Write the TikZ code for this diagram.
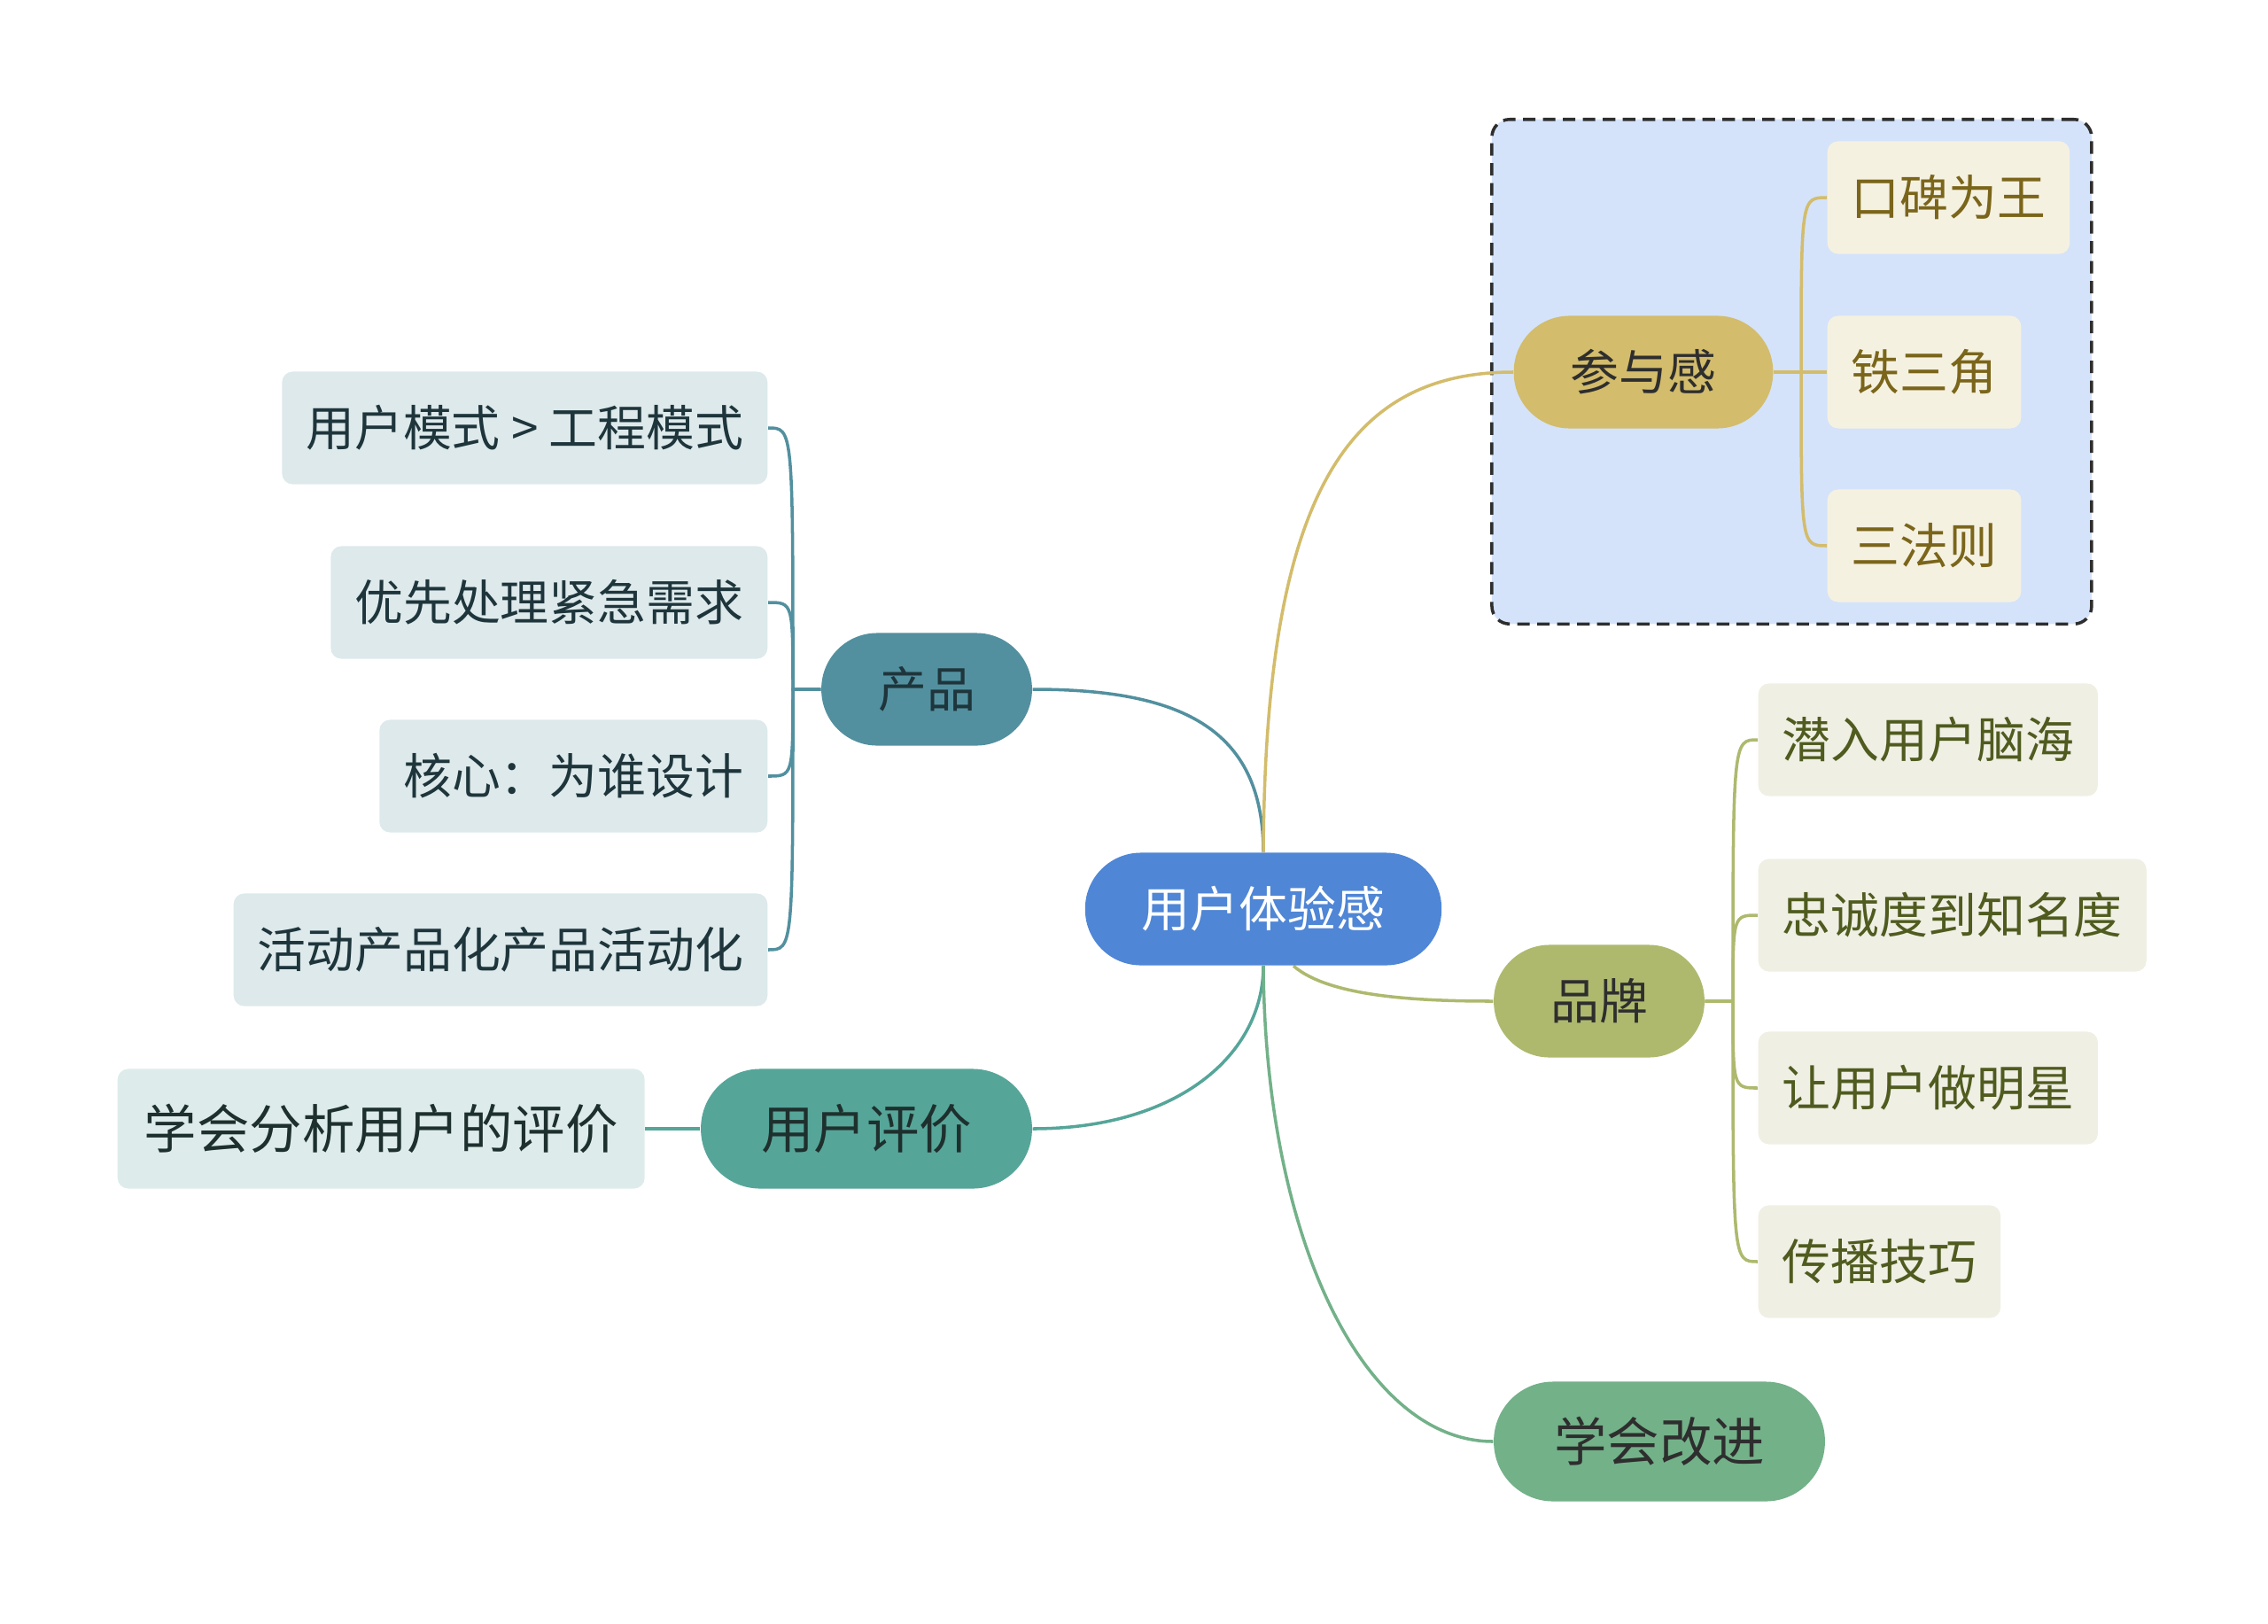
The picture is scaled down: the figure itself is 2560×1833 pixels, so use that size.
\documentclass[tikz,border=0pt]{standalone}
\usepackage{fontspec}
\setmainfont{Noto Sans CJK SC}
\usetikzlibrary{positioning, fit, backgrounds}

\definecolor{rootblue}{HTML}{4F86D6}
\definecolor{prodteal}{HTML}{52909F}
\definecolor{prodleaf}{HTML}{DDE9EB}
\definecolor{prodtext}{HTML}{1E353B}
\definecolor{evalteal}{HTML}{56A599}
\definecolor{evalleaf}{HTML}{DDECEA}
\definecolor{evaltext}{HTML}{1E302D}
\definecolor{partgold}{HTML}{D3BC6B}
\definecolor{partleaf}{HTML}{F5F1E1}
\definecolor{parttext}{HTML}{7A651A}
\definecolor{brandolive}{HTML}{AEB96E}
\definecolor{brandleaf}{HTML}{EFEFE3}
\definecolor{brandtext}{HTML}{4F5B1F}
\definecolor{improvegreen}{HTML}{73B189}
\definecolor{regionblue}{HTML}{D4E3FA}
\definecolor{darktext}{HTML}{2E2E2E}

\begin{document}
\begin{tikzpicture}[
    x=0.01cm, y=-0.01cm,
    topic/.style={rounded corners=6.3mm, minimum height=12.7mm,
                  inner xsep=6.4mm, inner ysep=0pt,
                  font=\fontsize{15.6pt}{18pt}\selectfont},
    bigtopic/.style={topic, rounded corners=6.7mm, minimum height=13.5mm,
                     inner xsep=6.8mm, font=\fontsize{16.9pt}{20pt}\selectfont},
    leaf/.style={rounded corners=1.2mm, minimum height=12.7mm,
                 inner xsep=2.7mm, inner ysep=0pt,
                 font=\fontsize{15.6pt}{18pt}\selectfont},
    link/.style={line width=1pt}
  ]
  \useasboundingbox (0,0) rectangle (2560,1833);

  % main topic and branches
  \node[topic, fill=rootblue, text=white] (root) at (1426,1026) {用户体验感};
  \node[topic, fill=prodteal, text=prodtext] (prod) at (1046,778) {产品};
  \node[bigtopic, fill=evalteal, text=evaltext] (eval) at (978,1274) {用户评价};
  \node[topic, fill=partgold, text=darktext] (part) at (1855,420) {参与感};
  \node[topic, fill=brandolive, text=darktext] (brand) at (1805,1130) {品牌};
  \node[bigtopic, fill=improvegreen, text=darktext] (improve) at (1873,1627) {学会改进};

  % leaves
  \node[leaf, fill=prodleaf, text=prodtext, anchor=east] (pc1) at (867,483) {用户模式 > 工程模式};
  \node[leaf, fill=prodleaf, text=prodtext, anchor=east] (pc2) at (867,680) {优先处理紧急需求};
  \node[leaf, fill=prodleaf, text=prodtext, anchor=east] (pc3) at (867,876) {核心：为谁设计};
  \node[leaf, fill=prodleaf, text=prodtext, anchor=east] (pc4) at (867,1072) {活动产品化产品活动化};

  \node[leaf, fill=evalleaf, text=evaltext, minimum height=13.5mm, inner xsep=3mm,
        font=\fontsize{16.9pt}{20pt}\selectfont, left=0.62cm of eval] (ec1) {学会分析用户的评价};

  \node[leaf, fill=partleaf, text=parttext, anchor=west] (pa1) at (2062,223) {口碑为王};
  \node[leaf, fill=partleaf, text=parttext, anchor=west] (pa2) at (2062,420) {铁三角};
  \node[leaf, fill=partleaf, text=parttext, anchor=west] (pa3) at (2062,616) {三法则};

  \node[leaf, fill=brandleaf, text=brandtext, anchor=west] (br1) at (1984,835) {潜入用户脑海};
  \node[leaf, fill=brandleaf, text=brandtext, anchor=west] (br2) at (1984,1033) {忠诚度到知名度};
  \node[leaf, fill=brandleaf, text=brandtext, anchor=west] (br3) at (1984,1228) {让用户做明星};
  \node[leaf, fill=brandleaf, text=brandtext, anchor=west] (br4) at (1984,1424) {传播技巧};

  \begin{scope}[on background layer]
    \node[fit=(part)(pa1)(pa3), inner sep=0.24cm, rounded corners=2mm,
          fill=regionblue, draw=darktext, line width=1pt,
          dash pattern=on 4pt off 2.4pt] (region) {};

    \draw[link, prodteal] (root.north) .. controls (1426,820) and (1330,778) .. (prod.east);
    \draw[link, partgold] (root.north) .. controls (1428,560) and (1520,420) .. (part.west);
    \draw[link, evalteal] (root.south) .. controls (1426,1190) and (1330,1274) .. (eval.east);
    \draw[link, improvegreen] (root.south) .. controls (1428,1400) and (1540,1627) .. (improve.west);
    \draw[link, brandolive] ([xshift=0.34cm]root.south) .. controls (1500,1125) and (1600,1130) .. (brand.west);

    \draw[link, prodteal] (prod.west) -- (895,778) .. controls (895,483) .. (pc1.east);
    \draw[link, prodteal] (prod.west) -- (895,778) .. controls (895,680) .. (pc2.east);
    \draw[link, prodteal] (prod.west) -- (895,778) .. controls (895,876) .. (pc3.east);
    \draw[link, prodteal] (prod.west) -- (895,778) .. controls (895,1072) .. (pc4.east);

    \draw[link, evalteal] (eval.west) -- (ec1.east);

    \draw[link, partgold] (part.east) -- (2033,420) .. controls (2033,223) .. (pa1.west);
    \draw[link, partgold] (part.east) -- (pa2.west);
    \draw[link, partgold] (part.east) -- (2033,420) .. controls (2033,616) .. (pa3.west);

    \draw[link, brandolive] (brand.east) -- (1956,1130) .. controls (1956,835) .. (br1.west);
    \draw[link, brandolive] (brand.east) -- (1956,1130) .. controls (1956,1033) .. (br2.west);
    \draw[link, brandolive] (brand.east) -- (1956,1130) .. controls (1956,1228) .. (br3.west);
    \draw[link, brandolive] (brand.east) -- (1956,1130) .. controls (1956,1424) .. (br4.west);
  \end{scope}
\end{tikzpicture}
\end{document}
